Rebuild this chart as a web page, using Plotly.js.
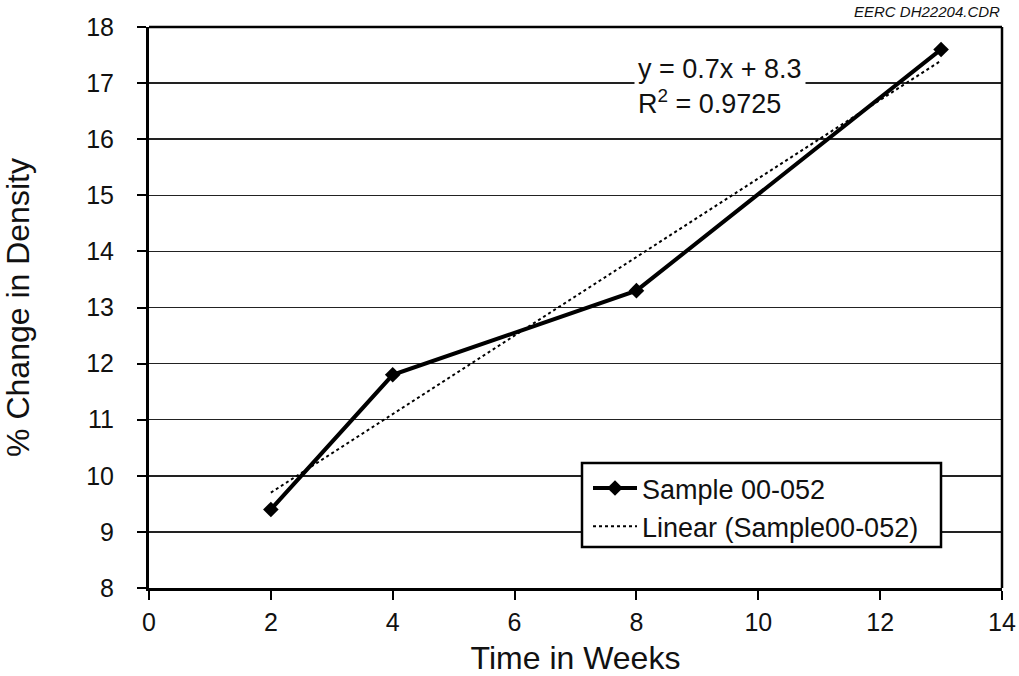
<!DOCTYPE html>
<html>
<head>
<meta charset="utf-8">
<script src="https://cdn.plot.ly/plotly-3.0.1.min.js"></script>
<style>html,body{margin:0;padding:0;background:#fff;}#chart{width:1019px;height:676px;}</style>
</head>
<body>
<div id="chart"></div>
<script>
// Data
const weeks = [2, 4, 8, 13];
const densityChange = [9.4, 11.8, 13.3, 17.6];
// Linear trendline endpoints (y = 0.7x + 8.3)
const trendX = [2, 13];
const trendY = [9.7, 17.4];
const xTicks = [0, 2, 4, 6, 8, 10, 12, 14];
const yTicks = [8, 9, 10, 11, 12, 13, 14, 15, 16, 17, 18];
const equationText = 'y = 0.7x + 8.3<br>R<sup>2</sup> = 0.9725';
const fileLabel = 'EERC DH22204.CDR';

const font = 'Liberation Sans, Arial, sans-serif';
const PW = 853, PH = 561, PL = 149, PB = 588;
const px = v => (v - PL) / PW;
const py = v => (PB - v) / PH;

const traces = [
  {
    x: weeks, y: densityChange, type: 'scatter', mode: 'lines+markers',
    name: 'Sample 00-052',
    line: {color: '#000', width: 4},
    marker: {symbol: 'diamond', size: 12, color: '#000'}
  },
  {
    x: trendX, y: trendY, type: 'scatter', mode: 'lines',
    name: 'Linear (Sample00-052)',
    line: {color: '#000', width: 2, dash: 'dot'}
  }
];

const layout = {
  width: 1019, height: 676,
  margin: {l: 149, r: 17, t: 27, b: 88},
  paper_bgcolor: '#fff', plot_bgcolor: '#fff',
  font: {family: font, color: '#111', size: 20},
  showlegend: true,
  legend: {
    x: px(588), y: py(464), xanchor: 'left', yanchor: 'top',
    bgcolor: 'rgba(0,0,0,0)', borderwidth: 0,
    font: {family: font, size: 27, color: '#111'},
    itemwidth: 44, tracegroupgap: 0
  },
  xaxis: {
    range: [0, 14], tickvals: xTicks, ticktext: xTicks.map(String),
    showgrid: false, zeroline: false,
    showline: true, linecolor: '#000', linewidth: 3, mirror: false,
    ticks: 'outside', ticklen: 9, tickwidth: 2, tickcolor: '#000',
    ticklabelstandoff: 1,
    tickfont: {family: font, size: 25, color: '#111'},
    title: {text: 'Time in Weeks', font: {family: font, size: 32, color: '#111'}, standoff: 20},
    fixedrange: true
  },
  yaxis: {
    range: [8, 18], tickvals: yTicks, ticktext: yTicks.map(String),
    showgrid: true, gridcolor: '#222', gridwidth: 1.5, zeroline: false,
    showline: true, linecolor: '#000', linewidth: 3, mirror: false,
    ticks: 'outside', ticklen: 9, tickwidth: 2, tickcolor: '#000',
    ticklabelstandoff: 18,
    tickfont: {family: font, size: 25, color: '#111'},
    title: {text: '% Change in Density', font: {family: font, size: 32, color: '#111'}, standoff: 49},
    fixedrange: true
  },
  shapes: [
    {type: 'line', xref: 'paper', yref: 'paper', x0: 0, x1: 1, y0: 1, y1: 1, line: {color: '#000', width: 2.5}},
    {type: 'line', xref: 'paper', yref: 'paper', x0: 1, x1: 1, y0: 0, y1: 1, line: {color: '#000', width: 2.5}},
    {type: 'rect', xref: 'paper', yref: 'paper', layer: 'above',
     x0: px(582), x1: px(941), y0: py(547), y1: py(463),
     fillcolor: '#fff', line: {color: '#000', width: 2.5}}
  ],
  annotations: [
    {
      text: equationText, xref: 'paper', yref: 'paper',
      x: px(634), y: py(50), xanchor: 'left', yanchor: 'top',
      align: 'left', showarrow: false, bgcolor: '#fff',
      font: {family: font, size: 27, color: '#111'}, borderpad: 3
    },
    {
      text: '<i>' + fileLabel + '</i>', xref: 'paper', yref: 'paper',
      x: 1, y: py(1), xanchor: 'right', yanchor: 'top',
      showarrow: false, font: {family: font, size: 15, color: '#111'}
    }
  ]
};

Plotly.newPlot('chart', traces, layout, {displayModeBar: false, staticPlot: true});
</script>
</body>
</html>
